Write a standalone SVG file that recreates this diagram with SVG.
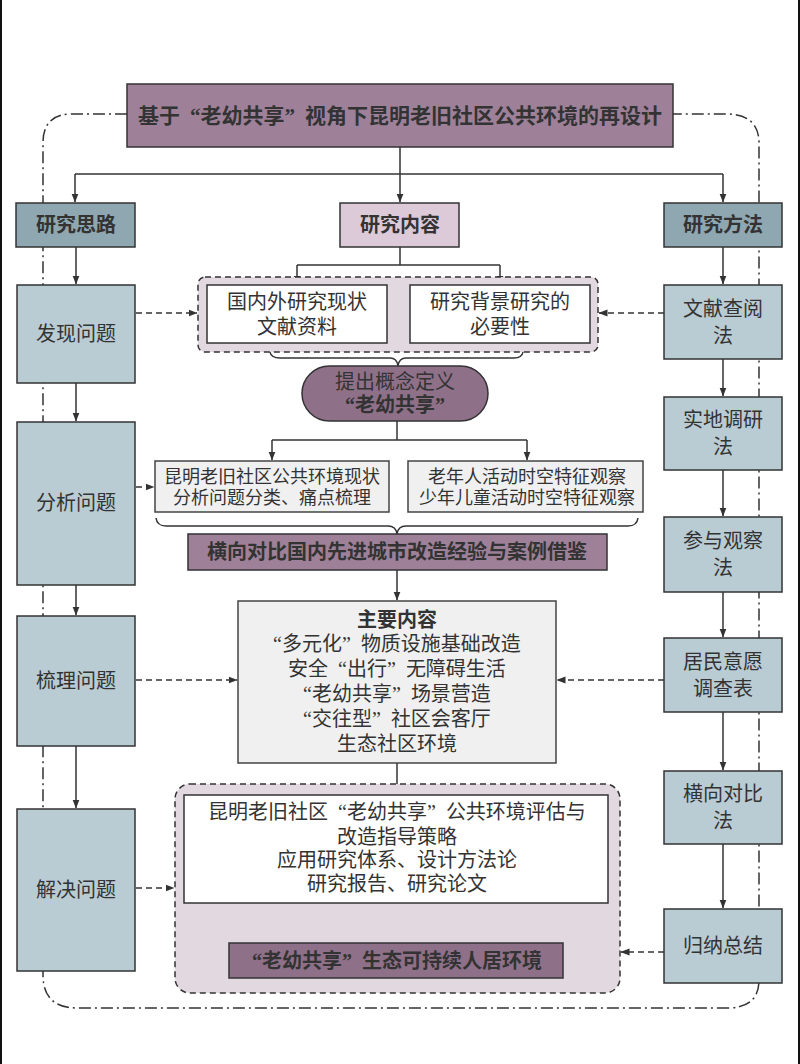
<svg xmlns="http://www.w3.org/2000/svg" width="800" height="1064" viewBox="0 0 800 1064">
<defs>
<marker id="ah" markerWidth="9" markerHeight="8" refX="8.5" refY="4" orient="auto" markerUnits="userSpaceOnUse"><path d="M0,0.5 L9,4 L0,7.5 z" fill="#333"/></marker>
<style>
text{font-family:"Liberation Serif","Noto Sans CJK SC","Noto Sans CJK JP",serif;fill:#333;text-anchor:middle;font-size:20px}
text,tspan{dominant-baseline:central}
.b{font-weight:bold}
.s{font-size:18px}
.ln{fill:none;stroke:#333;stroke-width:1.5}
.dash{fill:none;stroke:#333;stroke-width:1.5;stroke-dasharray:6 4}
.dd{fill:none;stroke:#333;stroke-width:1.5;stroke-dasharray:12 4 2 4}
.blue{fill:#b9cbd3;stroke:#333;stroke-width:1.5}
.head{fill:#8fa7b1;stroke:#333;stroke-width:1.5}
.mauve{fill:#9e8199;stroke:#333;stroke-width:1.5}
.dmauve{fill:#8f7089;stroke:#333;stroke-width:1.5}
.lmauve{fill:#dccad8;stroke:#333;stroke-width:1.5}
.white{fill:#fff;stroke:#333;stroke-width:1.5}
.grey{fill:#f0f0f0;stroke:#444;stroke-width:1.5}
.grp{fill:#e2d8e0;stroke:#333;stroke-width:1.5;stroke-dasharray:6 4}
</style>
</defs>
<rect width="800" height="1064" fill="#fff"/>
<line x1="1" y1="0" x2="1" y2="1064" stroke="#111" stroke-width="2"/>
<line x1="799" y1="0" x2="799" y2="1064" stroke="#111" stroke-width="2"/>

<g id="connectors">
<path class="dd" d="M127,114 H72 Q43,114 43,143 V975 Q43,1008 77,1008 H727 Q759,1008 759,980 V143 Q759,114 726,114 H673"/>
<path class="ln" d="M400,147 V202" marker-end="url(#ah)"/>
<path class="ln" d="M75,174 H723"/>
<path class="ln" d="M75,174 V202" marker-end="url(#ah)"/>
<path class="ln" d="M723,174 V202" marker-end="url(#ah)"/>
<path class="ln" d="M76,247 V284" marker-end="url(#ah)"/>
<path class="ln" d="M76,383 V421" marker-end="url(#ah)"/>
<path class="ln" d="M76,585 V615" marker-end="url(#ah)"/>
<path class="ln" d="M76,746 V808" marker-end="url(#ah)"/>
<path class="ln" d="M723,247 V284" marker-end="url(#ah)"/>
<path class="ln" d="M723,359 V396" marker-end="url(#ah)"/>
<path class="ln" d="M723,470 V516" marker-end="url(#ah)"/>
<path class="ln" d="M723,592 V637" marker-end="url(#ah)"/>
<path class="ln" d="M723,712 V770" marker-end="url(#ah)"/>
<path class="ln" d="M723,844 V908" marker-end="url(#ah)"/>
<path class="ln" d="M400,247 V265"/>
<path class="ln" d="M297,265 H500"/>
<path class="ln" d="M297,265 V284" marker-end="url(#ah)"/>
<path class="ln" d="M500,265 V284" marker-end="url(#ah)"/>
<path class="ln" d="M270,352 Q271,358 280,358 H390 Q397,358 398,366 Q399,358 406,358 H514 Q522,358 523,352"/>
<path class="ln" d="M397,421 V440"/>
<path class="ln" d="M272,440 H527"/>
<path class="ln" d="M272,440 V460" marker-end="url(#ah)"/>
<path class="ln" d="M527,440 V460" marker-end="url(#ah)"/>
<path class="ln" d="M156,518 Q157,526 166,526 H388 Q396,526 397,534 Q398,526 406,526 H628 Q637,526 638,518"/>
<path class="ln" d="M397,570 V600" marker-end="url(#ah)"/>
<path class="ln" d="M397,763 V794" marker-end="url(#ah)"/>
<path class="ln" d="M397,903 V942" marker-end="url(#ah)"/>
<path class="dash" d="M136,313 H197" marker-end="url(#ah)"/>
<path class="dash" d="M664,313 H599" marker-end="url(#ah)"/>
<path class="dash" d="M136,487 H154" marker-end="url(#ah)"/>
<path class="dash" d="M136,680 H237" marker-end="url(#ah)"/>
<path class="dash" d="M664,680 H557" marker-end="url(#ah)"/>
<path class="dash" d="M136,888 H174" marker-end="url(#ah)"/>
<path class="dash" d="M664,952 H621" marker-end="url(#ah)"/>
</g>

<g id="title"><rect class="mauve" x="127" y="84" width="546" height="63"/><text class="b" x="400" y="116" style="font-size:21px">基于<tspan dx="10">“老幼共享”</tspan><tspan dx="10">视角下昆明老旧社区公共环境的再设计</tspan></text></g>

<g id="h-silu"><rect class="head" x="16" y="203" width="119" height="44"/><text class="b" x="76" y="225">研究思路</text></g>
<g id="h-neirong"><rect class="lmauve" x="340" y="203" width="119" height="44"/><text class="b" x="400" y="225">研究内容</text></g>
<g id="h-fangfa"><rect class="head" x="664" y="203" width="118" height="44"/><text class="b" x="723" y="225">研究方法</text></g>

<g id="l1"><rect class="blue" x="17" y="285" width="118" height="98"/><text x="76" y="334">发现问题</text></g>
<g id="l2"><rect class="blue" x="17" y="422" width="118" height="163"/><text x="76" y="503">分析问题</text></g>
<g id="l3"><rect class="blue" x="17" y="616" width="118" height="130"/><text x="76" y="681">梳理问题</text></g>
<g id="l4"><rect class="blue" x="17" y="809" width="118" height="162"/><text x="76" y="890">解决问题</text></g>

<g id="r1"><rect class="blue" x="664" y="285" width="118" height="74"/><text><tspan x="723" y="309">文献查阅</tspan><tspan x="723" y="336">法</tspan></text></g>
<g id="r2"><rect class="blue" x="664" y="397" width="118" height="73"/><text><tspan x="723" y="420">实地调研</tspan><tspan x="723" y="447">法</tspan></text></g>
<g id="r3"><rect class="blue" x="664" y="517" width="118" height="75"/><text><tspan x="723" y="541">参与观察</tspan><tspan x="723" y="568">法</tspan></text></g>
<g id="r4"><rect class="blue" x="664" y="638" width="118" height="74"/><text><tspan x="723" y="662">居民意愿</tspan><tspan x="723" y="689">调查表</tspan></text></g>
<g id="r5"><rect class="blue" x="664" y="771" width="118" height="73"/><text><tspan x="723" y="794">横向对比</tspan><tspan x="723" y="821">法</tspan></text></g>
<g id="r6"><rect class="blue" x="664" y="909" width="118" height="74"/><text x="723" y="946">归纳总结</text></g>

<g id="group1">
<rect class="grp" x="198" y="277" width="400" height="75" rx="7"/>
<g id="c1"><rect class="white" x="207" y="285" width="180" height="58"/><text><tspan x="297" y="302">国内外研究现状</tspan><tspan x="297" y="327">文献资料</tspan></text></g>
<g id="c2"><rect class="white" x="410" y="285" width="180" height="58"/><text><tspan x="500" y="302">研究背景研究的</tspan><tspan x="500" y="327">必要性</tspan></text></g>
</g>

<g id="concept"><rect class="dmauve" x="302" y="366" width="186" height="55" rx="27.5"/><text><tspan x="395" y="382">提出概念定义</tspan><tspan class="b" x="395" y="405">“老幼共享”</tspan></text></g>

<g id="a1"><rect class="grey" x="155" y="461" width="234" height="51"/><text class="s"><tspan x="272" y="476.5">昆明老旧社区公共环境现状</tspan><tspan x="272" y="497.5">分析问题分类、痛点梳理</tspan></text></g>
<g id="a2"><rect class="grey" x="408" y="461" width="235" height="51"/><text class="s"><tspan x="527" y="476.5">老年人活动时空特征观察</tspan><tspan x="527" y="497.5">少年儿童活动时空特征观察</tspan></text></g>

<g id="compare"><rect class="mauve" x="188" y="534" width="419" height="36"/><text class="b" x="397" y="552">横向对比国内先进城市改造经验与案例借鉴</text></g>

<g id="main"><rect class="grey" x="238" y="601" width="318" height="162"/>
<text><tspan class="b" x="397" y="620">主要内容</tspan><tspan x="397" y="644">“多元化”<tspan dx="10">物质设施基础改造</tspan></tspan><tspan x="397" y="669">安全<tspan dx="10">“出行”</tspan><tspan dx="10">无障碍生活</tspan></tspan><tspan x="397" y="694">“老幼共享”<tspan dx="10">场景营造</tspan></tspan><tspan x="397" y="719">“交往型”<tspan dx="10">社区会客厅</tspan></tspan><tspan x="397" y="744">生态社区环境</tspan></text>
</g>

<g id="group2">
<rect class="grp" x="175" y="784" width="445" height="209" rx="15"/>
<g id="strategy"><rect class="white" x="184" y="795" width="424" height="108"/>
<text><tspan x="397" y="812">昆明老旧社区<tspan dx="10">“老幼共享”</tspan><tspan dx="10">公共环境评估与</tspan></tspan><tspan x="397" y="837">改造指导策略</tspan><tspan x="397" y="860">应用研究体系、设计方法论</tspan><tspan x="397" y="884">研究报告、研究论文</tspan></text></g>
<g id="result"><rect class="dmauve" x="229" y="943" width="334" height="35"/><text class="b" x="397" y="961">“老幼共享”<tspan dx="10">生态可持续人居环境</tspan></text></g>
</g>
</svg>
